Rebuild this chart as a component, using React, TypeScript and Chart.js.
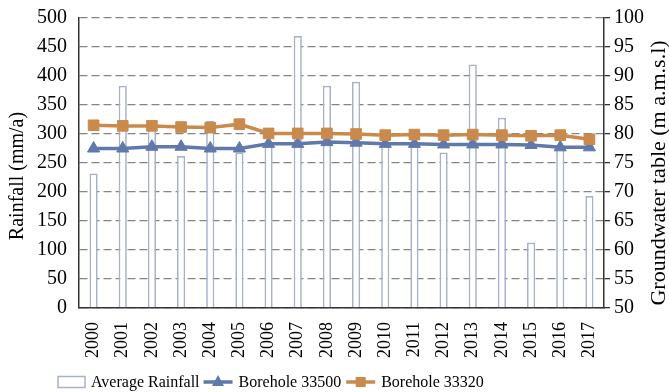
import React, { useEffect, useRef } from 'react';
import { Chart, registerables } from 'chart.js';

Chart.register(...registerables);

const years = ['2000', '2001', '2002', '2003', '2004', '2005', '2006', '2007', '2008',
  '2009', '2010', '2011', '2012', '2013', '2014', '2015', '2016', '2017'];

// Average rainfall (mm/a), left axis
const rainfall = [232, 383, 323, 262, 323, 268, 283, 469, 383, 390, 285, 285, 268, 420, 328, 113, 280, 193];

// Groundwater table (m a.m.s.l), right axis
const borehole33500 = [77.5, 77.5, 77.8, 77.8, 77.5, 77.5, 78.3, 78.3, 78.6, 78.5, 78.3, 78.3, 78.2, 78.2, 78.2, 78.1, 77.7, 77.7];
const borehole33320 = [81.5, 81.4, 81.4, 81.2, 81.1, 81.7, 80.1, 80.1, 80.1, 80.0, 79.8, 79.9, 79.8, 79.9, 79.8, 79.7, 79.8, 79.1];

const leftTitle = 'Rainfall (mm/a)';
const rightTitle = 'Groundwater table (m a.m.s.l)';

const SERIF = '"Liberation Serif", "Times New Roman", serif';
const BAR_BORDER = '#a7b2c9';
const BLUE = '#6079aa';
const ORANGE = '#c98a4c';

// Vertical axis titles, set a little below the plot's middle
const axisTitles = {
  id: 'axisTitles',
  afterDraw(chart: any) {
    const ctx = chart.ctx as CanvasRenderingContext2D;
    const area = chart.chartArea;
    const mid = (area.top + area.bottom) / 2;
    ctx.save();
    ctx.fillStyle = '#000';
    ctx.textAlign = 'center';
    ctx.textBaseline = 'middle';
    ctx.save();
    ctx.font = `20px ${SERIF}`;
    ctx.translate(18, mid + 13);
    ctx.rotate(-Math.PI / 2);
    ctx.fillText(leftTitle, 0, 0);
    ctx.restore();
    ctx.save();
    ctx.font = `22px ${SERIF}`;
    ctx.translate(chart.width - 10, mid + 10);
    ctx.rotate(-Math.PI / 2);
    ctx.fillText(rightTitle, 0, 0);
    ctx.restore();
    ctx.restore();
  },
};

// Legend drawn along the bottom edge: outlined box for bars, line + marker for series
const bottomLegend = {
  id: 'bottomLegend',
  afterDraw(chart: any) {
    const ctx = chart.ctx as CanvasRenderingContext2D;
    const sets = chart.data.datasets;
    ctx.save();
    ctx.font = `16px ${SERIF}`;
    ctx.textBaseline = 'middle';
    const y = 382;
    let x = 58;

    // bar swatch
    ctx.strokeStyle = BAR_BORDER;
    ctx.lineWidth = 1.5;
    ctx.fillStyle = '#fff';
    ctx.fillRect(x, y - 5.5, 27, 11);
    ctx.strokeRect(x, y - 5.5, 27, 11);
    x += 33;
    ctx.fillStyle = '#000';
    ctx.fillText(sets[0].label, x, y + 1);
    x += ctx.measureText(sets[0].label).width + 4;

    for (let i = 1; i < sets.length; i++) {
      const ds = sets[i];
      ctx.strokeStyle = ds.borderColor;
      ctx.lineWidth = 3.5;
      ctx.beginPath();
      ctx.moveTo(x, y);
      ctx.lineTo(x + 29, y);
      ctx.stroke();
      ctx.fillStyle = ds.borderColor;
      const cx = x + 14.5;
      if (ds.pointStyle === 'triangle') {
        ctx.beginPath();
        ctx.moveTo(cx, y - 7);
        ctx.lineTo(cx + 6, y + 4);
        ctx.lineTo(cx - 6, y + 4);
        ctx.closePath();
        ctx.fill();
      } else {
        ctx.fillRect(cx - 5, y - 5, 10, 10);
      }
      x += 35;
      ctx.fillStyle = '#000';
      ctx.fillText(ds.label, x, y + 1);
      x += ctx.measureText(ds.label).width + 5;
    }
    ctx.restore();
  },
};

export default function App() {
  const canvasRef = useRef<HTMLCanvasElement | null>(null);

  useEffect(() => {
    document.body.style.margin = '0';
    const canvas = canvasRef.current;
    if (!canvas) return;

    const chart = new Chart(canvas, {
      data: {
        labels: years,
        datasets: [
          {
            type: 'bar',
            label: 'Average Rainfall',
            data: rainfall,
            yAxisID: 'y',
            backgroundColor: '#ffffff',
            borderColor: BAR_BORDER,
            borderWidth: 1.7,
            barPercentage: 0.28,
            categoryPercentage: 1,
            order: 3,
          },
          {
            type: 'line',
            label: 'Borehole 33500',
            data: borehole33500,
            yAxisID: 'y1',
            borderColor: BLUE,
            backgroundColor: BLUE,
            borderWidth: 3.5,
            pointStyle: 'triangle',
            pointRadius: 7,
            pointBorderWidth: 1,
            tension: 0,
            order: 2,
          },
          {
            type: 'line',
            label: 'Borehole 33320',
            data: borehole33320,
            yAxisID: 'y1',
            borderColor: ORANGE,
            backgroundColor: ORANGE,
            borderWidth: 3.5,
            pointStyle: 'rect',
            pointRadius: 7.5,
            pointBorderWidth: 1,
            tension: 0,
            order: 1,
          },
        ] as any,
      },
      options: {
        responsive: false,
        animation: false,
        layout: { padding: { top: 18, bottom: 34, left: 0, right: 0 } },
        plugins: {
          legend: { display: false },
          tooltip: { enabled: false },
        },
        scales: {
          x: {
            grid: { display: false },
            border: { display: true, color: '#333', width: 1.5 },
            ticks: {
              minRotation: 90,
              maxRotation: 90,
              padding: 6,
              color: '#000',
              font: { family: SERIF, size: 18 },
            },
            afterFit(scale: any) { scale.height = 50; },
          },
          y: {
            position: 'left',
            min: 0,
            max: 500,
            ticks: {
              stepSize: 50,
              padding: 12,
              color: '#000',
              font: { family: SERIF, size: 20, lineHeight: 0.3 },
            },
            grid: { color: '#858585', lineWidth: 1.3, drawTicks: false },
            border: { display: true, color: '#333', width: 1.5, dash: [8, 4] },
            afterFit(scale: any) { scale.width = 79; },
          },
          y1: {
            position: 'right',
            min: 50,
            max: 100,
            ticks: {
              stepSize: 5,
              padding: 4,
              color: '#000',
              font: { family: SERIF, size: 20, lineHeight: 0.3 },
            },
            grid: { drawOnChartArea: false, drawTicks: true, tickLength: 6, color: '#333', lineWidth: 1.3 },
            border: { display: true, color: '#333', width: 1.5 },
            afterFit(scale: any) { scale.width = 65; },
          },
        },
      } as any,
      plugins: [axisTitles, bottomLegend],
    });

    return () => chart.destroy();
  }, []);

  return (
    <div style={{ position: 'absolute', left: 0, top: 0, width: 669, height: 392, background: '#fff' }}>
      <canvas ref={canvasRef} width={669} height={392} />
    </div>
  );
}
